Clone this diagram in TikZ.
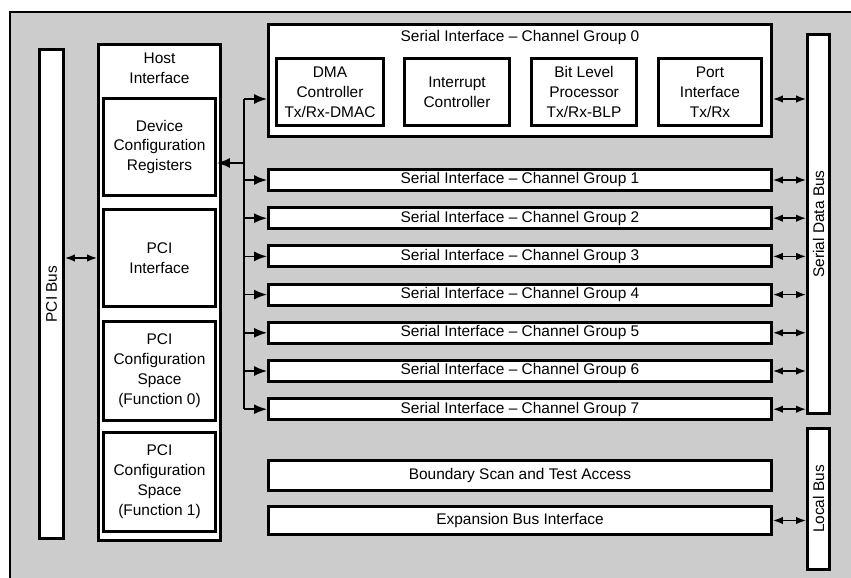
\documentclass[tikz,border=0pt]{standalone}
\usepackage{fontspec}
\setmainfont{Liberation Sans}
\usetikzlibrary{arrows.meta}
\definecolor{hatch}{gray}{0.80}
\begin{document}
\begin{tikzpicture}[x=1bp,y=-1bp,
  txt/.style={font=\fontsize{15.5}{20}\selectfont, align=center},
  box/.style={draw, line width=2.9bp, fill=white, inner sep=0pt, txt},
  conn/.style={line width=1.6bp},
  bigarrow/.style={conn, -{Latex[length=13bp,width=10bp]}},
  dbl/.style={conn, {Latex[length=10bp,width=7.5bp]}-{Latex[length=10bp,width=7.5bp]}}
]
\useasboundingbox (0,0) rectangle (851,578);
\clip (0,0) rectangle (851,578);
\fill[white] (0,0) rectangle (851,578);
\draw[line width=2bp, fill=hatch] (10,12) rectangle (900,640);

% PCI bus
\node[box, minimum width=24bp, minimum height=489bp] (pcibus) at (51.5,294) {};
\node[txt, rotate=90] (pcibust) at (pcibus.center) {PCI Bus};

% Host interface
\node[box, minimum width=122bp, minimum height=496bp] (host) at (159.5,292.5) {};
\node[txt, anchor=north] (hostt) at (159.5,49) {Host\\Interface};
\node[box, minimum width=112bp, minimum height=97bp] (dev) at (159.5,147) {Device\\Configuration\\Registers};
\node[box, minimum width=112bp, minimum height=97bp] (pciif) at (159.5,258) {PCI\\Interface};
\node[box, minimum width=112bp, minimum height=99bp] (f0) at (159.5,371) {PCI\\Configuration\\Space\\(Function 0)};
\node[box, minimum width=112bp, minimum height=99bp] (f1) at (159.5,482) {PCI\\Configuration\\Space\\(Function 1)};

% Channel group 0
\node[box, minimum width=503bp, minimum height=112bp] (g0) at (520,80.5) {};
\node[txt] (g0t) at (520,38) {Serial Interface \textendash{} Channel Group 0};
\node[box, minimum width=107bp, minimum height=67bp] (dma) at (330,92) {DMA\\Controller\\Tx/Rx-DMAC};
\node[box, minimum width=105bp, minimum height=67bp] (intr) at (457,92) {Interrupt\\Controller};
\node[box, minimum width=105bp, minimum height=67bp] (blp) at (584,92) {Bit Level\\Processor\\Tx/Rx-BLP};
\node[box, minimum width=103bp, minimum height=67bp] (port) at (710,92) {Port\\Interface\\Tx/Rx};

% Channel groups 1-7
\foreach \k in {1,...,7}{
  \pgfmathsetmacro\yy{180+(\k-1)*38.2}
  \node[box, minimum width=503bp, minimum height=21bp] (g\k) at (520,\yy) {Serial Interface \textendash{} Channel Group \k};
}
\node[box, minimum width=503bp, minimum height=30bp] (bscan) at (520,475.5) {Boundary Scan and Test Access};
\node[box, minimum width=503bp, minimum height=28bp] (exp) at (520,520.5) {Expansion Bus Interface};

% Buses on the right
\node[box, minimum width=22bp, minimum height=379bp] (sdb) at (818.5,224) {};
\node[txt, rotate=90] (sdbt) at (sdb.center) {Serial Data Bus};
\node[box, minimum width=22bp, minimum height=141bp] (lbus) at (818.5,499) {};
\node[txt, rotate=90] (lbust) at (lbus.center) {Local Bus};

% Connectors
\coordinate (btop) at (244,99);
\coordinate (dtap) at (244,163);
\draw[conn] (btop) -- (btop |- g7.west);
\draw[bigarrow] (btop) -- (btop -| g0.west);
\foreach \k in {1,...,7}{
  \draw[bigarrow] (btop |- g\k.west) -- (g\k.west);
  \draw[dbl] (g\k.east) -- (g\k.east -| sdb.west);
}
\draw[bigarrow] (dtap) -- (dtap -| dev.east);
\draw[dbl] (btop -| g0.east) -- (btop -| sdb.west);
\draw[dbl] (exp.east) -- (exp.east -| lbus.west);
\draw[dbl] (pcibus.east |- pciif) -- (host.west |- pciif);
\end{tikzpicture}
\end{document}
